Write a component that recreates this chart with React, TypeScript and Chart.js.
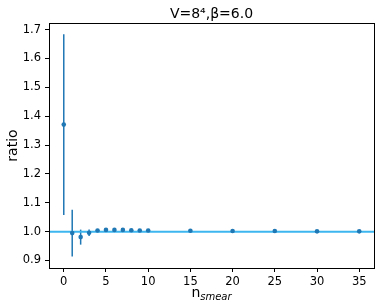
import React, { useEffect, useRef } from "react";
import { Chart, registerables } from "chart.js";

Chart.register(...registerables);

const nSmear = [0, 1, 2, 3, 4, 5, 6, 7, 8, 9, 10, 15, 20, 25, 30, 35];
const ratio = [1.371, 0.995, 0.981, 0.996, 1.004, 1.006, 1.006, 1.006, 1.005, 1.004, 1.004, 1.003, 1.002, 1.002, 1.001, 1.001];
const ratioErr = [0.313, 0.081, 0.026, 0.011, 0.004, 0.003, 0.003, 0.003, 0.002, 0.002, 0.002, 0.002, 0.001, 0.001, 0.001, 0.001];
const xTicks = [0, 5, 10, 15, 20, 25, 30, 35];
const yTicks = [0.9, 1.0, 1.1, 1.2, 1.3, 1.4, 1.5, 1.6, 1.7];
const refValue = 1.0;
const titleText = "V=8⁴,β=6.0";
const yLabel = "ratio";

const FONT = "'DejaVu Sans', sans-serif";
const BLUE = "#1f77b4";
const LINE = "#3db6ef";

export default function App() {
  const ref = useRef<HTMLCanvasElement>(null);
  useEffect(() => {
    document.body.style.margin = "0";
    const canvas = ref.current!;
    const deco = {
      id: "deco",
      beforeDatasetsDraw(chart: any) {
        const { ctx, scales } = chart;
        const xs = scales.x, ys = scales.y;
        const ca = chart.chartArea;
        ctx.save();
        ctx.beginPath();
        ctx.rect(ca.left, ca.top, ca.right - ca.left, ca.bottom - ca.top);
        ctx.clip();
        ctx.strokeStyle = BLUE;
        ctx.lineWidth = 1.5;
        nSmear.forEach((n, i) => {
          const px = xs.getPixelForValue(n);
          ctx.beginPath();
          ctx.moveTo(px, ys.getPixelForValue(ratio[i] - ratioErr[i]));
          ctx.lineTo(px, ys.getPixelForValue(ratio[i] + ratioErr[i]));
          ctx.stroke();
        });
        const py = ys.getPixelForValue(refValue);
        ctx.strokeStyle = LINE;
        ctx.lineWidth = 2;
        ctx.beginPath();
        ctx.moveTo(ca.left, py);
        ctx.lineTo(ca.right, py);
        ctx.stroke();
        ctx.restore();
      },
      afterDraw(chart: any) {
        const { ctx } = chart;
        const ca = chart.chartArea;
        ctx.save();
        ctx.strokeStyle = "#000";
        ctx.lineWidth = 1;
        ctx.strokeRect(Math.round(ca.left) + 0.5, Math.round(ca.top) + 0.5, Math.round(ca.right - ca.left), Math.round(ca.bottom - ca.top));
        ctx.fillStyle = "#000";
        // title
        ctx.font = `14px ${FONT}`;
        ctx.textAlign = "center";
        ctx.textBaseline = "alphabetic";
        ctx.fillText(titleText, (ca.left + ca.right) / 2, 18);
        // x label with subscript
        const cx = (ca.left + ca.right) / 2;
        ctx.font = `14px ${FONT}`;
        const wMain = ctx.measureText("n").width;
        ctx.font = `italic 10px ${FONT}`;
        const wSub = ctx.measureText("smear").width;
        const start = cx - (wMain + wSub) / 2;
        ctx.textAlign = "left";
        ctx.font = `14px ${FONT}`;
        ctx.fillText("n", start, 297);
        ctx.font = `italic 10px ${FONT}`;
        ctx.fillText("smear", start + wMain, 300);
        // y label
        ctx.translate(13, (ca.top + ca.bottom) / 2);
        ctx.rotate(-Math.PI / 2);
        ctx.font = `14px ${FONT}`;
        ctx.textAlign = "center";
        ctx.textBaseline = "middle";
        ctx.fillText(yLabel, 0, 0);
        ctx.restore();
      },
    };
    const chart = new Chart(canvas, {
      type: "scatter",
      data: {
        datasets: [
          {
            data: nSmear.map((n, i) => ({ x: n, y: ratio[i] })),
            backgroundColor: BLUE,
            borderColor: BLUE,
            pointRadius: 2.3,
            pointBorderWidth: 0,
          },
        ],
      },
      options: {
        animation: false,
        responsive: false,
        events: [],
        layout: { padding: { top: 23, right: 7, left: 0, bottom: 0 } },
        plugins: { legend: { display: false }, tooltip: { enabled: false }, title: { display: false } },
        scales: {
          x: {
            type: "linear",
            min: -1.75,
            max: 36.75,
            afterBuildTicks: (s: any) => { s.ticks = xTicks.map((v) => ({ value: v })); },
            afterFit: (s: any) => { s.height = 39; },
            ticks: { color: "#000", font: { family: FONT, size: 11.5 }, padding: 3, maxRotation: 0 },
            grid: { drawOnChartArea: false, tickLength: 4, color: "#000" },
            border: { display: false },
          },
          y: {
            type: "linear",
            min: 0.874,
            max: 1.723,
            afterBuildTicks: (s: any) => { s.ticks = yTicks.map((v) => ({ value: v })); },
            afterFit: (s: any) => { s.width = 49; },
            ticks: { color: "#000", font: { family: FONT, size: 11.5 }, padding: 4, callback: (v: any) => Number(v).toFixed(1) },
            grid: { drawOnChartArea: false, tickLength: 4, color: "#000" },
            border: { display: false },
          },
        },
      },
      plugins: [deco],
    });
    return () => chart.destroy();
  }, []);
  return (
    <div style={{ width: 381, height: 307 }}>
      <canvas ref={ref} width={381} height={307} style={{ width: 381, height: 307, display: "block" }} />
    </div>
  );
}
